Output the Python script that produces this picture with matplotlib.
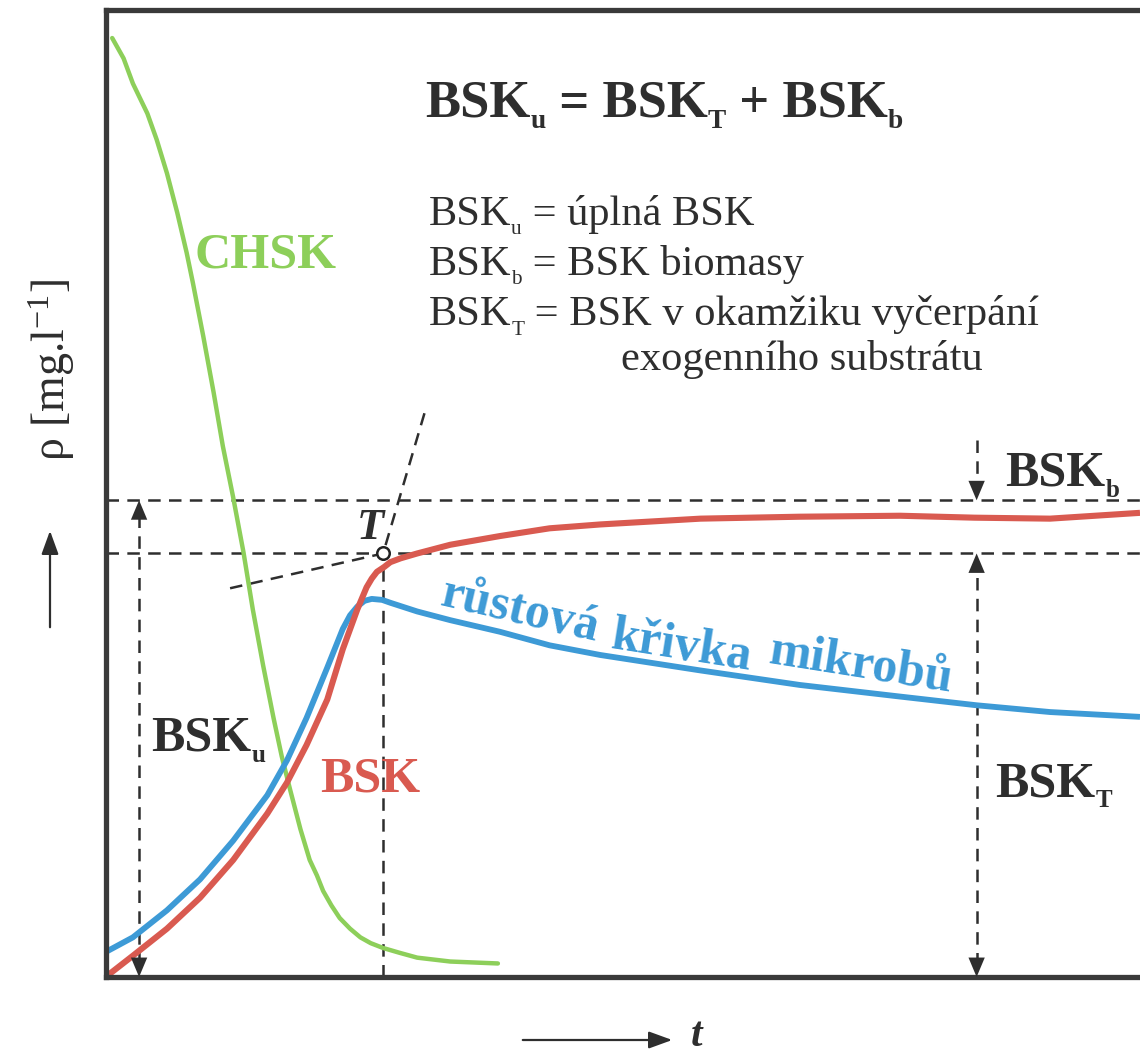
import matplotlib
matplotlib.use("Agg")
import matplotlib.pyplot as plt
from matplotlib.patches import FancyArrowPatch

plt.rcParams['font.family'] = 'Liberation Serif'
plt.rcParams['mathtext.fontset'] = 'custom'
plt.rcParams['mathtext.rm'] = 'Liberation Serif'
plt.rcParams['mathtext.it'] = 'Liberation Serif:italic'
plt.rcParams['mathtext.bf'] = 'Liberation Serif:bold'
plt.rcParams['lines.scale_dashes'] = False

# CHSK - ubytek substratu
chsk_t = [0.06, 0.17, 0.26, 0.40, 0.49, 0.59, 0.69, 0.78, 0.84, 0.94, 1.04, 1.13,
          1.23, 1.33, 1.42, 1.52, 1.62, 1.70, 1.78, 1.88, 1.97, 2.04, 2.10, 2.18,
          2.26, 2.36, 2.46, 2.56, 2.68, 2.84, 3.01, 3.33, 3.79]
chsk_rho = [97.1, 95.0, 92.4, 89.3, 86.6, 83.1, 79.0, 74.9, 71.8, 66.3, 60.5, 54.9,
            49.6, 43.9, 38.0, 32.2, 26.8, 22.8, 19.4, 15.3, 12.1, 10.5, 8.9, 7.4,
            6.1, 5.0, 4.1, 3.5, 3.0, 2.5, 2.0, 1.6, 1.4]

# BSK - spotreba kysliku
bsk_t = [0.02, 0.26, 0.59, 0.91, 1.23, 1.56, 1.75, 1.94, 2.14, 2.29, 2.43, 2.52,
         2.57, 2.62, 2.69, 2.75, 2.85, 3.01, 3.33, 3.81, 4.29, 4.78, 5.75, 6.71,
         7.68, 8.40, 9.13, 10.0]
bsk_rho = [0.2, 2.2, 5.0, 8.2, 12.1, 16.9, 20.1, 24.0, 28.7, 33.9, 38.0, 40.3,
           41.2, 41.9, 42.4, 42.9, 43.3, 43.8, 44.7, 45.6, 46.4, 46.8, 47.4, 47.6,
           47.7, 47.5, 47.4, 48.0]

# rustova krivka mikrobu
bio_t = [0.0, 0.26, 0.59, 0.91, 1.23, 1.56, 1.75, 1.94, 2.14, 2.29, 2.36, 2.43,
         2.50, 2.57, 2.67, 2.75, 3.01, 3.33, 3.81, 4.29, 4.78, 5.75, 6.71, 7.68,
         8.42, 9.13, 10.0]
bio_rho = [2.6, 4.1, 6.9, 10.1, 14.1, 18.8, 22.4, 26.8, 32.0, 36.0, 37.4, 38.3,
           38.9, 39.1, 39.0, 38.7, 37.8, 36.9, 35.7, 34.3, 33.3, 31.7, 30.2, 29.0,
           28.1, 27.4, 26.9]

# bod T a urovne BSK
t_T = 2.68
rho_T = 43.8
rho_u = 49.3
t_left = 0.32
t_right = 8.42
tang_steep = (3.08, 58.3)
tang_flat = (1.20, 40.2)

GREEN = '#8dcf5a'
RED = '#d95a50'
BLUE = '#3d9ad6'
DARK = '#2e2e2e'
DASH = (0, (9, 6))

fig = plt.figure(figsize=(11.4, 10.57), dpi=100)
ax = fig.add_axes([106 / 1140, 1 - 977 / 1057, 1 - 106 / 1140, 967 / 1057])
ax.set_xlim(0, 10)
ax.set_ylim(0, 100)
ax.set_xticks([])
ax.set_yticks([])
for side in ['left', 'top', 'bottom']:
    ax.spines[side].set_linewidth(3.8)
    ax.spines[side].set_color('#3a3a3a')
ax.spines['right'].set_visible(False)
renderer = fig.canvas.get_renderer()


def rich_text(x, y, pieces, size, sub_scale=0.5, **kw):
    # text with small subscripts, laid out piece by piece from the baseline point
    dx = 0.0
    for s, sub in pieces:
        fs = size * sub_scale if sub else size
        dy = -size * 0.22 if sub else 0.0
        t = ax.annotate(s, xy=(x, y), xytext=(dx, dy), textcoords='offset points',
                        fontsize=fs, ha='left', va='baseline', **kw)
        dx += t.get_window_extent(renderer).width * 72 / fig.dpi


# pomocne carkovane cary
ax.plot([0, 10], [rho_u, rho_u], color=DARK, lw=1.8, ls=DASH)
ax.plot([0, 10], [rho_T, rho_T], color=DARK, lw=1.8, ls=DASH)
ax.plot([t_T, t_T], [0, rho_T], color=DARK, lw=1.8, ls=DASH)
ax.plot([tang_steep[0], t_T], [tang_steep[1], rho_T], color=DARK, lw=1.8, ls=DASH)
ax.plot([tang_flat[0], t_T], [tang_flat[1], rho_T], color=DARK, lw=1.8, ls=DASH)
ax.plot([t_left, t_left], [1.2, rho_u - 1.2], color=DARK, lw=1.8, ls=DASH)
ax.plot([t_right, t_right], [55.5, rho_u + 1.2], color=DARK, lw=1.8, ls=DASH)
ax.plot([t_right, t_right], [1.2, rho_T - 1.2], color=DARK, lw=1.8, ls=DASH)


def arrow_head(x, y, direction):
    ax.annotate('', xy=(x, y), xytext=(x, y - direction * 2.5),
                arrowprops=dict(arrowstyle='-|>,head_length=1.0,head_width=0.42',
                                color=DARK, lw=0, shrinkA=0, shrinkB=0,
                                mutation_scale=14))


arrow_head(t_left, rho_u, 1)
arrow_head(t_left, 0, -1)
arrow_head(t_right, rho_u, -1)
arrow_head(t_right, rho_T, 1)
arrow_head(t_right, 0, -1)

# krivky
ax.plot(chsk_t, chsk_rho, color=GREEN, lw=3.2, solid_joinstyle='round', solid_capstyle='round')
ax.plot(bio_t, bio_rho, color=BLUE, lw=4.2, solid_joinstyle='round', solid_capstyle='butt')
ax.plot(bsk_t, bsk_rho, color=RED, lw=4.4, solid_joinstyle='round', solid_capstyle='butt')

ax.plot([t_T], [rho_T], 'o', ms=9, mfc='white', mec='#222222', mew=1.8, zorder=5)

# popisky
ax.text(0.86, 73.4, 'CHSK', color=GREEN, fontsize=36, fontweight='bold')
rich_text(3.09, 89.0, [('BSK', 0), ('u', 1), (' = BSK', 0), ('T', 1), (' + BSK', 0), ('b', 1)],
          38, sub_scale=0.52, color=DARK, fontweight='bold')
legend_rows = [('u', ' = úplná BSK'), ('b', ' = BSK biomasy'),
               ('T', ' = BSK v okamžiku vyčerpání')]
for i, (sub, rest) in enumerate(legend_rows):
    rich_text(3.12, 77.8 - i * 5.2, [('BSK', 0), (sub, 1), (rest, 0)], 30.5, color=DARK)
ax.text(4.98, 62.8, 'exogenního substrátu', color=DARK, fontsize=30.5)

ax.text(2.43, 45.3, 'T', color=DARK, fontsize=32, fontstyle='italic', fontweight='bold')
rich_text(0.44, 23.4, [('BSK', 0), ('u', 1)], 36, color=DARK, fontweight='bold')
ax.text(2.07, 19.2, 'BSK', color=RED, fontsize=36, fontweight='bold')
rich_text(8.70, 50.8, [('BSK', 0), ('b', 1)], 36, color=DARK, fontweight='bold')
rich_text(8.60, 18.7, [('BSK', 0), ('T', 1)], 36, color=DARK, fontweight='bold')

for word, tx, ty, rot in [('růstová', 4.00, 37.8, -13), ('křivka', 5.57, 34.1, -9),
                          ('mikrobů', 7.30, 32.2, -9)]:
    ax.text(tx, ty, word, color=BLUE, fontsize=36, fontweight='bold',
            rotation=rot, rotation_mode='anchor', ha='center', va='center')

# popisky os
fig.text(52 / 1140, 1 - 370 / 1057, r'ρ [mg.l$^{-1}$]', rotation=90, fontsize=33,
         color=DARK, ha='center', va='center')
fig.patches.append(FancyArrowPatch(
    (50 / 1140, 1 - 630 / 1057), (50 / 1140, 1 - 528 / 1057), transform=fig.transFigure,
    arrowstyle='-|>,head_length=1.1,head_width=0.4', mutation_scale=13, color=DARK, lw=1.6))
fig.patches.append(FancyArrowPatch(
    (520 / 1140, 1 - 1040 / 1057), (675 / 1140, 1 - 1040 / 1057), transform=fig.transFigure,
    arrowstyle='-|>,head_length=1.1,head_width=0.4', mutation_scale=13, color=DARK, lw=1.6))
fig.text(697 / 1140, 1 - 1036 / 1057, 't', fontsize=30, fontstyle='italic', fontweight='bold',
         color=DARK, ha='center', va='center')

fig.savefig('out.png', dpi=100)
